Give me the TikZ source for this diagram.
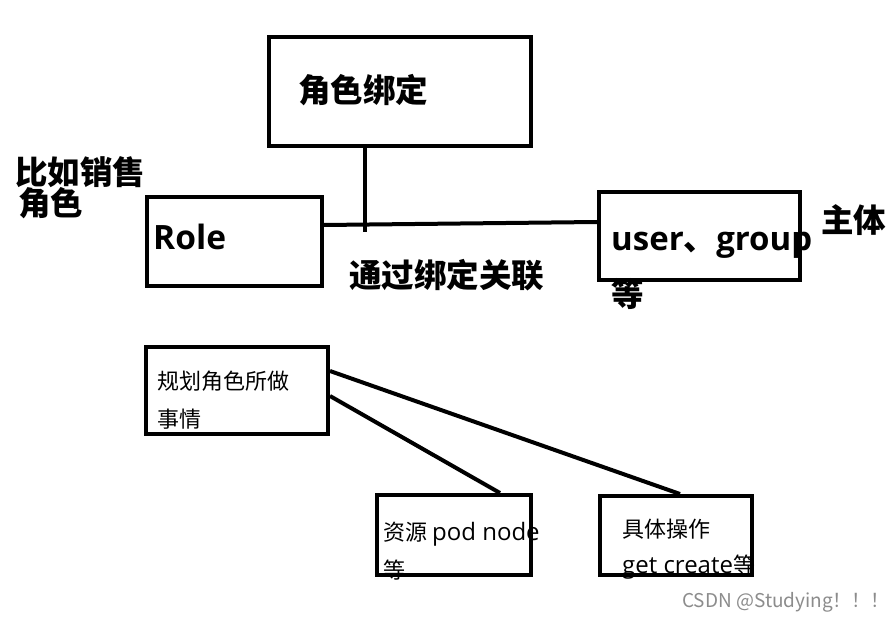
\documentclass[tikz,border=0pt]{standalone}
\usepackage{fontspec}
\setmainfont{Noto Sans CJK SC}
\newfontfamily\lat{Open Sans}
\begin{document}
\begin{tikzpicture}[x=1pt,y=-1pt,
  box/.style={draw, line width=4pt, inner sep=0pt},
  conn/.style={draw, line width=4pt},
  big/.style={font=\bfseries\fontsize{32.5}{32.5}\selectfont, inner sep=0pt, anchor=base west},
  small/.style={font=\fontsize{22}{22}\selectfont, inner sep=0pt, anchor=base west},
  wmark/.style={font=\fontsize{19}{19}\selectfont, text=black!45, inner sep=0pt, anchor=base west}]
\useasboundingbox[fill=white] (0,0) rectangle (894,620);
% boxes
\node[box, minimum width=262pt, minimum height=109pt] (bind) at (400,91.5) {};
\node[box, minimum width=175pt, minimum height=89pt] (role) at (234.5,241.5) {};
\node[box, minimum width=201pt, minimum height=88pt] (user) at (699.5,236) {};
\node[box, minimum width=182pt, minimum height=87pt] (plan) at (237,390.5) {};
\node[box, minimum width=154pt, minimum height=80pt] (res) at (454,535) {};
\node[box, minimum width=152pt, minimum height=79pt] (ops) at (676,535.5) {};
% connectors
\coordinate (j) at (365,232);
\draw[conn] ([yshift=16.5pt]role.east) -- ([yshift=14pt]user.west);
\draw[conn] ([xshift=-35pt]bind.south) -- (j);
\draw[conn] ([yshift=19.5pt]plan.east) -- ([xshift=4pt]ops.north);
\draw[conn] ([yshift=-5.5pt]plan.east) -- ([xshift=46pt]res.north);
% texts
\node[big] (tbind) at (298,103) {角色绑定};
\node[big] (tex1) at (15,185) {比如销售};
\node[big] (tex2) at (18,216) {角色};
\node[big, font=\lat\bfseries\fontsize{33.5}{33.5}\selectfont] (trole) at (153,250) {Role};
\node[big] (tuser) at (611,251) {{\lat\fontsize{33}{33}\selectfont user}、{\lat\fontsize{33}{33}\selectfont group}};
\node[big] (tdeng) at (611,306) {等};
\node[big] (tsub) at (821,233) {主体};
\node[big] (tlink) at (349,288) {通过绑定关联};
\node[small] (tplan1) at (157,389) {规划角色所做};
\node[small] (tplan2) at (157,427) {事情};
\node[small] (tres1) at (383,540) {资源 {\lat\fontsize{24}{24}\selectfont pod node}};
\node[small] (tres2) at (383,578) {等};
\node[small] (tops1) at (622,537) {具体操作};
\node[small] (tops2) at (622,573) {{\lat\fontsize{24}{24}\selectfont get create}等};
\node[wmark] (tcsdn) at (682,607) {CSDN @Studying！！！};
\end{tikzpicture}
\end{document}
